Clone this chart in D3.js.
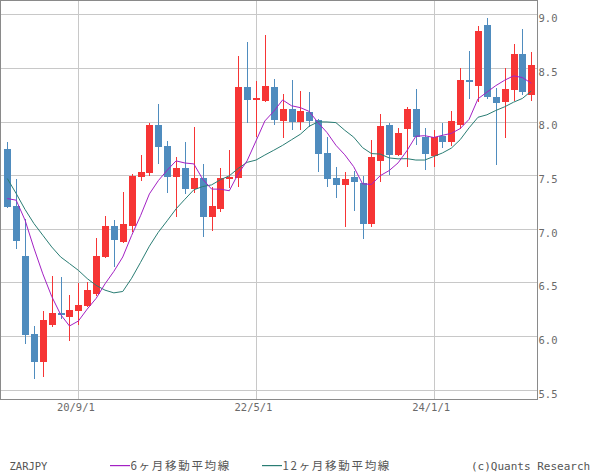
<!DOCTYPE html>
<html><head><meta charset="utf-8">
<script src="https://cdn.jsdelivr.net/npm/d3@7"></script>
<style>
html,body{margin:0;padding:0;background:#fff;}
svg{display:block;}
</style></head>
<body><svg id="chart" width="600" height="475"></svg>
<script>
// ---- data (monthly ZARJPY candles, 2020/01 .. 2024/12) ----
const months = [];
for (let yr = 2020; yr <= 2024; yr++) for (let m = 1; m <= 12; m++) months.push(yr + "/" + String(m).padStart(2, "0"));

const opens  = [7.743,7.211,6.744,6.016,5.758,6.103,6.212,6.178,6.234,6.277,6.393,6.735,
                7.024,6.878,7.027,7.485,7.522,7.967,7.771,7.485,7.565,7.373,7.478,7.111,
                7.186,7.460,7.475,8.322,8.203,8.188,8.322,8.004,8.116,7.998,8.088,8.013,
                7.705,7.472,7.407,7.481,7.425,7.046,7.634,7.970,7.690,7.926,8.119,7.858,
                7.681,7.867,7.811,7.970,8.387,8.334,8.900,8.228,8.185,8.294,8.633,8.250];
const highs  = [7.808,7.469,7.096,6.091,6.231,6.561,6.548,6.383,6.492,6.501,6.915,7.117,
                7.080,7.341,7.509,7.690,7.989,8.163,7.817,7.668,7.808,7.948,7.603,7.391,
                7.565,7.733,8.611,8.741,8.378,8.807,8.396,8.256,8.387,8.284,8.275,8.023,
                7.855,7.575,7.531,7.537,7.491,7.827,8.069,7.982,7.942,8.135,8.300,7.942,
                7.920,7.986,8.098,8.496,8.658,8.894,8.966,8.309,8.496,8.723,8.863,8.645];
const lows   = [7.190,6.812,5.926,5.599,5.615,6.085,6.156,5.954,6.103,6.270,6.371,6.725,
                6.644,6.870,6.971,7.447,7.491,7.603,7.335,7.111,7.326,7.335,6.925,6.981,
                7.158,7.385,7.391,7.989,7.858,8.181,7.967,7.849,7.920,7.920,7.951,7.531,
                7.391,7.289,7.018,7.167,6.906,7.018,7.438,7.500,7.680,7.578,7.780,7.550,
                7.578,7.755,7.774,7.933,8.210,8.178,8.207,7.597,7.849,8.191,8.250,8.188];
const closes = [7.204,6.887,6.010,5.758,6.147,6.212,6.197,6.240,6.287,6.427,6.744,7.024,
                6.900,7.043,7.491,7.528,7.967,7.764,7.485,7.565,7.373,7.478,7.111,7.211,
                7.478,7.480,8.322,8.203,8.219,8.331,8.017,8.116,7.998,8.097,8.007,7.699,
                7.466,7.407,7.463,7.435,7.046,7.668,7.957,7.690,7.892,8.119,7.852,7.699,
                7.858,7.811,8.001,8.387,8.371,8.844,8.231,8.175,8.303,8.633,8.275,8.527];
// moving-average values at the start of the window (earlier data not shown)
const ma6Lead  = [7.282,7.267,7.080,6.820,6.580];
const ma12Lead = [7.469,7.329,7.180,7.049,6.940,6.831,6.738,6.676,6.613,6.536,6.473];

const yTicks = [5.5,6.0,6.5,7.0,7.5,8.0,8.5,9.0];
const xTickMonths = ["2020/09","2022/05","2024/01"];
const xTickLabels = ["20/9/1","22/5/1","24/1/1"];

const legendSymbol = "ZARJPY";
const legendMA6 = "6ヶ月移動平均線";
const legendMA12 = "12ヶ月移動平均線";
const credit = "(c)Quants Research";

// ---- derived moving averages ----
function movingAvg(n, lead) {
  return closes.map((c, i) => i < n - 1 ? lead[i] : d3.mean(closes.slice(i - n + 1, i + 1)));
}
const ma6 = movingAvg(6, ma6Lead);
const ma12 = movingAvg(12, ma12Lead);

// ---- layout ----
const svg = d3.select("#chart");
const L = 0.5, R = 537.5, T = 0.5, B = 399.5;
const x = d3.scalePoint().domain(months).range([7.3, 531.3]);
const y = d3.scaleLinear().domain([5.5, 9.0]).range([389.7, 14.3]);

const monoFont = "'DejaVu Sans Mono', 'Liberation Mono', monospace";
const cjkFont = "'Noto Sans CJK JP', 'Noto Sans', sans-serif";
const UP = "#f63535", DOWN = "#4f8cbe";
const MA6C = "#a321c4", MA12C = "#2a7d74";

// grid
const grid = svg.append("g").attr("shape-rendering", "crispEdges");
grid.selectAll("line.h").data(yTicks).join("line")
  .attr("x1", L).attr("x2", R)
  .attr("y1", d => Math.round(y(d)) + 0.5).attr("y2", d => Math.round(y(d)) + 0.5)
  .attr("stroke", "#c8c8c8").attr("stroke-width", 1);
grid.selectAll("line.v").data(xTickMonths).join("line")
  .attr("y1", T).attr("y2", B)
  .attr("x1", d => Math.round(x(d)) + 0.5).attr("x2", d => Math.round(x(d)) + 0.5)
  .attr("stroke", "#c8c8c8").attr("stroke-width", 1);

// candles
const idx = d3.range(months.length);
const cg = svg.append("g").attr("shape-rendering", "crispEdges");
cg.selectAll("line.wick").data(idx).join("line")
  .attr("x1", i => Math.round(x(months[i])) + 0.5).attr("x2", i => Math.round(x(months[i])) + 0.5)
  .attr("y1", i => y(highs[i])).attr("y2", i => y(lows[i]))
  .attr("stroke", i => closes[i] >= opens[i] ? UP : DOWN).attr("stroke-width", 1);
const bw = 7;
cg.selectAll("rect.body").data(idx).join("rect")
  .attr("x", i => Math.round(x(months[i])) + 0.5 - bw / 2)
  .attr("width", bw)
  .attr("y", i => y(Math.max(opens[i], closes[i])))
  .attr("height", i => Math.max(1.5, Math.abs(y(opens[i]) - y(closes[i]))))
  .attr("fill", i => closes[i] >= opens[i] ? UP : DOWN);

// moving averages
const line = d3.line().x((d, i) => x(months[i])).y(d => y(d));
svg.append("path").datum(ma12).attr("d", line).attr("fill", "none")
  .attr("stroke", MA12C).attr("stroke-width", 1);
svg.append("path").datum(ma6).attr("d", line).attr("fill", "none")
  .attr("stroke", MA6C).attr("stroke-width", 1);

// frame
svg.append("rect").attr("x", L).attr("y", T).attr("width", R - L).attr("height", B - T)
  .attr("fill", "none").attr("stroke", "#8a8a8a").attr("stroke-width", 1)
  .attr("shape-rendering", "crispEdges");

// right axis
const yAxis = svg.append("g").attr("transform", `translate(${R},0)`)
  .call(d3.axisRight(y).tickValues(yTicks).tickFormat(d3.format(".1f")).tickSize(0).tickPadding(1));
yAxis.select(".domain").remove();
yAxis.selectAll("text").attr("dy", "7.4px").attr("fill", "#6a6a6a")
  .style("font-family", monoFont).style("font-size", "10.5px");

// bottom axis
const labelOf = d => xTickLabels[xTickMonths.indexOf(d)];
const xAxis = svg.append("g").attr("transform", `translate(0,${B})`)
  .call(d3.axisBottom(x).tickValues(xTickMonths).tickFormat(labelOf).tickSize(0).tickPadding(4));
xAxis.select(".domain").remove();
xAxis.selectAll("text").attr("dx", "-3px").attr("fill", "#6a6a6a")
  .style("font-family", monoFont).style("font-size", "10.5px");

// legend
const lg = svg.append("g");
lg.append("text").attr("x", 9.5).attr("y", 470).text(legendSymbol)
  .attr("fill", "#555").style("font-family", monoFont).style("font-size", "10.5px");
lg.append("rect").attr("x", 110).attr("y", 465).attr("width", 20).attr("height", 1.2)
  .attr("fill", MA6C);
lg.append("text").attr("x", 130.5).attr("y", 470).text(legendMA6)
  .attr("fill", "#555").style("font-family", cjkFont).style("font-size", "11.5px").style("letter-spacing", "1.7px");
lg.append("rect").attr("x", 262).attr("y", 465).attr("width", 20).attr("height", 1.2)
  .attr("fill", MA12C);
lg.append("text").attr("x", 282.5).attr("y", 470).text(legendMA12)
  .attr("fill", "#555").style("font-family", cjkFont).style("font-size", "11.5px").style("letter-spacing", "1.7px");
lg.append("text").attr("x", 471).attr("y", 470).text(credit)
  .attr("fill", "#555").style("font-family", monoFont).style("font-size", "11px");
</script>
</body></html>
